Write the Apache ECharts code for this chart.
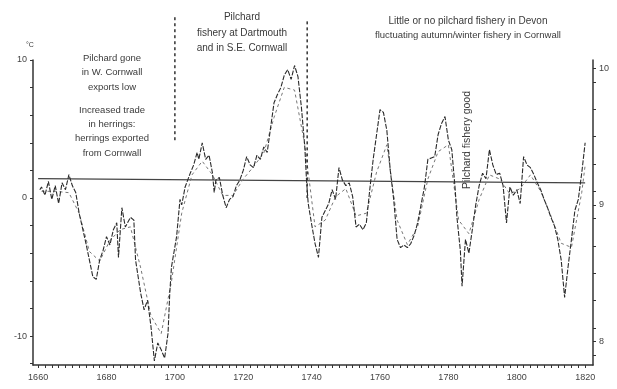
<!DOCTYPE html>
<html>
<head>
<meta charset="utf-8">
<script src="https://cdn.jsdelivr.net/npm/echarts@6/dist/echarts.min.js"></script>
<style>html,body{margin:0;padding:0;background:#fff;}#c{width:617px;height:389px;}</style>
</head>
<body>
<div id="c"></div>
<script>
// ---- data ----
const yearTicks = [1660, 1680, 1700, 1720, 1740, 1760, 1780, 1800, 1820];
const leftTicks = [10, 0, -10];
const rightTicks = [10, 9, 8];
// annual index (left axis)
const annualYears = [1660.5,1661,1662,1663,1664,1665,1666,1667,1668,1669,1670,1671,1672,1673,1674,1675,1676,1677,1678,1679,1680,1681,1682,1683,1683.5,1684.5,1685.5,1687,1688,1688.5,1690,1691,1692,1693,1694,1695,1696,1697,1698,1698.5,1699,1700.5,1701.5,1702,1703,1704.5,1705.5,1706.5,1707,1708,1709,1710,1711,1711.5,1712,1713,1714,1715,1716,1717,1718,1719,1720,1721,1722,1723,1724,1725,1726,1727,1728,1729,1730,1731,1732,1733,1734,1735,1736,1737,1738,1738.5,1739,1740,1741,1742,1743,1744,1745,1746,1747,1748,1749,1750,1751,1752,1753,1754,1755,1756,1757,1758,1759,1760,1761,1762,1763,1764,1765,1766,1767,1768,1769,1770,1771,1772,1773,1774,1775,1776,1777,1778,1779,1780,1781,1782,1782.5,1783.5,1784,1785,1786,1787,1788,1789,1790,1791,1792,1793,1794,1795,1796,1797,1798,1799,1800,1801,1802,1803,1804,1805,1806,1807,1808,1809,1810,1811,1812,1813,1814,1815,1816,1817,1818,1819,1820];
const annualValues = [0.6,0.8,0.2,1.2,-0.1,0.9,-0.4,1.1,0.6,1.7,0.9,0.4,-1.1,-2.2,-3.3,-4.5,-5.7,-5.9,-4.5,-3.8,-2.8,-3.4,-2.3,-1.8,-4.3,-0.7,-2.1,-1.4,-1.6,-4.5,-6.9,-8.1,-7.4,-9.3,-11.8,-10.5,-11.0,-11.6,-9.8,-6.9,-5.0,-2.8,-0.1,-0.5,0.8,1.8,2.4,3.3,2.8,4.0,2.8,3.1,1.8,0.4,1.3,1.5,0.2,-0.7,-0.1,0.1,0.9,1.3,2.0,3.0,2.4,2.2,3.1,2.8,3.7,3.3,5.1,6.9,7.5,8.0,8.9,9.3,8.6,9.6,8.8,6.6,3.7,1.3,-0.4,-1.9,-3.3,-4.3,-1.4,-0.9,-0.4,0.6,-0.1,2.2,1.3,0.9,1.1,0.1,-2.1,-1.9,-2.3,-1.8,0.6,2.8,4.6,6.4,6.2,4.9,2.0,-0.1,-3.0,-3.6,-3.4,-3.6,-3.3,-2.7,-1.8,-0.5,0.8,2.8,2.9,3.0,4.6,5.4,5.9,4.2,3.5,0.6,-1.4,-3.8,-6.4,-3.0,-4.0,-2.3,-0.5,0.9,1.8,1.4,3.5,2.4,1.7,1.8,0.9,-1.8,0.8,0.2,0.6,-0.4,3.0,2.4,2.2,1.7,1.1,0.6,-0.1,-0.7,-1.4,-2.0,-3.0,-4.5,-7.2,-5.0,-3.0,-0.9,-0.1,1.8,4.0];
// smoothed temperature (right axis, deg C)
const smoothYears = [1661,1665,1669,1672,1675,1678,1681,1684,1687,1690,1693,1696,1699,1702,1705,1708,1711,1714,1717,1720,1723,1726,1729,1732,1735,1738,1741,1744,1747,1750,1753,1756,1759,1762,1765,1768,1771,1774,1777,1780,1783,1786,1789,1792,1795,1798,1801,1804,1807,1810,1813,1816,1819,1820];
const smoothValues = [9.10,9.10,9.09,8.94,8.66,8.59,8.74,8.82,8.84,8.54,8.19,8.06,8.44,8.94,9.22,9.32,9.22,9.07,9.07,9.19,9.28,9.38,9.64,9.86,9.84,9.44,8.84,8.89,9.06,9.12,8.92,8.94,9.24,9.44,8.89,8.71,8.84,9.19,9.39,9.44,8.89,8.79,9.04,9.22,9.19,9.08,9.12,9.22,9.10,8.92,8.72,8.69,9.09,9.29];
// mean reference line (left axis)
const meanYears = [1660, 1820];
const meanValues = [1.4, 1.1];
// period boundaries
const boundaryYears = [1700, 1738.7];
const boundaryTop = [13.1, 12.8];
const boundaryBottom = [4.0, 0.0];

const chart = echarts.init(document.getElementById('c'), null, {renderer: 'canvas'});
const ink = '#333';
const font = '"Liberation Sans", Arial, sans-serif';
const zip = (a, b) => a.map((v, i) => [v, b[i]]);

function range(a, b, s) { const r = []; for (let v = a; v <= b + 1e-9; v += s) r.push(+v.toFixed(3)); return r; }

const series = [
  {type: 'line', data: zip(meanYears, meanValues), symbol: 'none', lineStyle: {color: '#444', width: 1.3}, z: 1, silent: true},
  {type: 'line', yAxisIndex: 1, data: zip(smoothYears, smoothValues), symbol: 'none', lineStyle: {color: '#777', width: 1, type: [3, 3]}, z: 2},
  {type: 'line', data: zip(annualYears, annualValues), symbol: 'none', lineStyle: {color: '#2a2a2a', width: 1.1, type: [5, 1.5]}, z: 3}
];
boundaryYears.forEach((yr, i) => {
  series.push({type: 'line', clip: false, data: [[yr, boundaryTop[i]], [yr, boundaryBottom[i]]], symbol: 'none', lineStyle: {color: '#333', width: 1.5, type: [3, 3]}, z: 4, silent: true});
});

const txt = (x, y, s, size, rot) => ({type: 'text', x: x, y: y, rotation: rot || 0,
  style: {text: s, fill: '#3a3a3a', font: size + 'px ' + font, textAlign: 'center', textVerticalAlign: 'middle'}});

chart.setOption({
  animation: false,
  backgroundColor: '#fff',
  grid: {left: 33, right: 24, top: 60, bottom: 24, containLabel: false},
  xAxis: {
    type: 'value', min: 1658.5, max: 1822.3,
    axisLine: {show: true, onZero: false, lineStyle: {color: ink, width: 1.5}},
    axisTick: {show: true, customValues: range(1660, 1820, 2), length: 3, lineStyle: {color: ink}},
    axisLabel: {customValues: yearTicks, formatter: v => String(Math.round(v)), color: '#444', fontSize: 9, fontFamily: font, margin: 8},
    splitLine: {show: false}
  },
  yAxis: [
    {type: 'value', min: -12.1, max: 10, position: 'left',
      axisLine: {show: true, onZero: false, lineStyle: {color: ink, width: 1.5}},
      axisTick: {show: true, customValues: range(-12, 10, 2), length: 3, lineStyle: {color: ink}},
      axisLabel: {customValues: leftTicks, color: '#444', fontSize: 9, fontFamily: font, margin: 6},
      splitLine: {show: false}},
    {type: 'value', min: 7.83, max: 10.06, position: 'right',
      axisLine: {show: true, onZero: false, lineStyle: {color: ink, width: 1.5}},
      axisTick: {show: true, customValues: range(7.9, 10.0, 0.2).concat([8, 9, 10]), length: 3, lineStyle: {color: ink}},
      axisLabel: {customValues: rightTicks, color: '#444', fontSize: 9, fontFamily: font, margin: 6},
      splitLine: {show: false}}
  ],
  series: series,
  graphic: [
    txt(30, 45, '°C', 7),
    txt(112, 58, 'Pilchard gone', 9.5),
    txt(112, 72, 'in W. Cornwall', 9.5),
    txt(112, 87, 'exports low', 9.5),
    txt(112, 110, 'Increased trade', 9.5),
    txt(112, 124, 'in herrings:', 9.5),
    txt(112, 138, 'herrings exported', 9.5),
    txt(112, 153, 'from Cornwall', 9.5),
    txt(242, 17, 'Pilchard', 10),
    txt(242, 33, 'fishery at Dartmouth', 10),
    txt(242, 48, 'and in S.E. Cornwall', 10),
    txt(468, 21, 'Little or no pilchard fishery in Devon', 10),
    txt(468, 35, 'fluctuating autumn/winter fishery in Cornwall', 9.5),
    txt(467, 140, 'Pilchard fishery good', 10.5, Math.PI / 2)
  ]
});
</script>
</body>
</html>
